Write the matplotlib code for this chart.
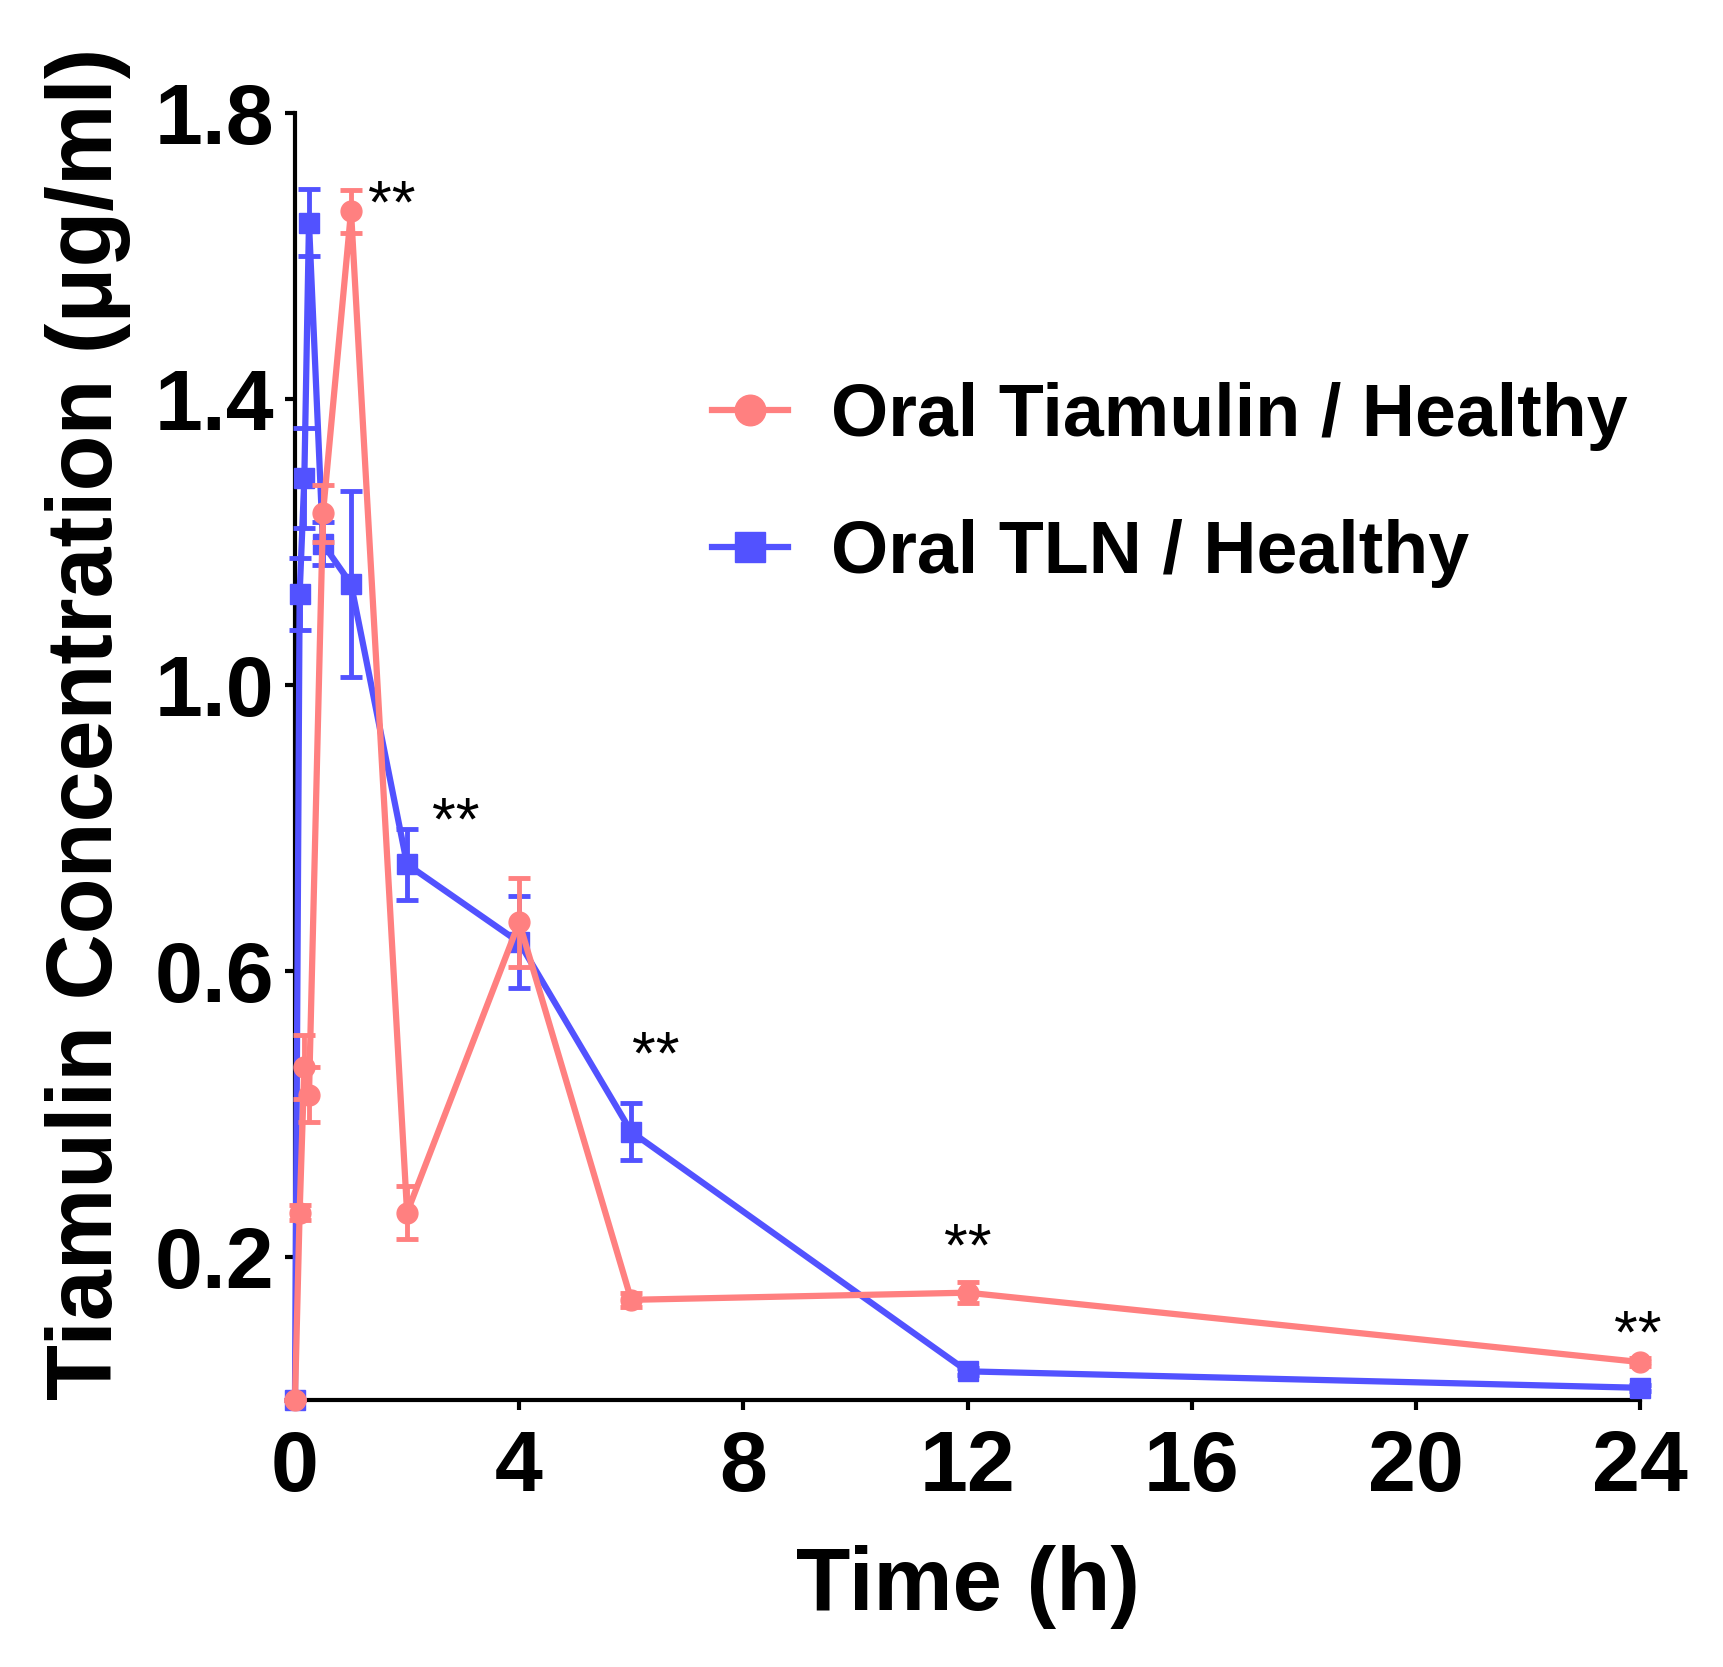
import matplotlib
matplotlib.use("Agg")
import matplotlib.pyplot as plt

plt.rcParams['font.family'] = ['Liberation Sans', 'DejaVu Sans']

# Data
time_h = [0, 0.083, 0.167, 0.25, 0.5, 1, 2, 4, 6, 12, 24]
tiamulin_mean = [0, 0.262, 0.466, 0.427, 1.24, 1.662, 0.262, 0.668, 0.14, 0.15, 0.053]
tiamulin_sd = [0, 0.01, 0.045, 0.038, 0.04, 0.03, 0.037, 0.062, 0.01, 0.015, 0.006]
tln_mean = [0, 1.127, 1.289, 1.646, 1.197, 1.141, 0.749, 0.640, 0.375, 0.04, 0.017]
tln_sd = [0, 0.05, 0.07, 0.047, 0.03, 0.13, 0.05, 0.064, 0.04, 0.005, 0.004]

sig_x = [1.73, 2.86, 6.43, 12.0, 23.96]
sig_y = [1.668, 0.806, 0.478, 0.21, 0.088]
sig_text = ["**", "**", "**", "**", "**"]

x_ticks = [0, 4, 8, 12, 16, 20, 24]
y_ticks = [0.2, 0.6, 1.0, 1.4, 1.8]

red = '#FF8080'
blue = '#5252FF'

fig = plt.figure(figsize=(17.24, 16.67), dpi=100)
ax = fig.add_axes([0.1711, 0.1602, 0.7802, 0.7722])

lw = 4.5
eb_b = ax.errorbar(time_h, tln_mean, yerr=tln_sd, color=blue, lw=lw, marker='s',
                   markersize=14, capsize=8, capthick=3.5, elinewidth=3.5,
                   clip_on=False, zorder=3, label='Oral TLN / Healthy')
eb_r = ax.errorbar(time_h, tiamulin_mean, yerr=tiamulin_sd, color=red, lw=lw, marker='o',
                   markersize=15, capsize=8, capthick=3.5, elinewidth=3.5,
                   clip_on=False, zorder=4, label='Oral Tiamulin / Healthy')
for eb in (eb_b, eb_r):
    eb[0].set_clip_on(False)
    for a in eb[1]:
        a.set_clip_on(False)
    for c in eb[2]:
        c.set_clip_on(False)

for sx, sy, st in zip(sig_x, sig_y, sig_text):
    ax.text(sx, sy, st, fontsize=44, ha='center', va='center', color='black')

ax.set_xlim(0, 24)
ax.set_ylim(0, 1.8)
ax.set_xticks(x_ticks)
ax.set_yticks(y_ticks)
ax.set_xticklabels([str(t) for t in x_ticks])
ax.set_yticklabels([f"{t:.1f}" for t in y_ticks])

for s in ['top', 'right']:
    ax.spines[s].set_visible(False)
for s in ['left', 'bottom']:
    ax.spines[s].set_linewidth(3)
ax.tick_params(axis='both', direction='out', length=7, width=3, labelsize=62)
ax.tick_params(axis='y', pad=8)
ax.tick_params(axis='x', pad=14)
for lab in ax.get_xticklabels() + ax.get_yticklabels():
    lab.set_fontweight('bold')

ax.set_xlabel('Time (h)', fontsize=64, fontweight='bold')
ax.xaxis.set_label_coords(0.5, -0.113)
fig.text(88 / 1724, 1 - 724 / 1667, 'Tiamulin Concentration (μg/ml)', rotation=90,
         ha='center', va='center', fontsize=66, fontweight='bold')

h_r = plt.Line2D([], [], color=red, lw=lw, marker='o', markersize=22)
h_b = plt.Line2D([], [], color=blue, lw=lw, marker='s', markersize=21)
leg = ax.legend([h_r, h_b], ['Oral Tiamulin / Healthy', 'Oral TLN / Healthy'],
                loc='upper left', bbox_to_anchor=(712 / 1724, 1 - 382 / 1667),
                bbox_transform=fig.transFigure, frameon=False,
                prop={'size': 53, 'weight': 'bold'}, handlelength=1.03,
                handletextpad=0.58, labelspacing=0.92, borderpad=0, borderaxespad=0)

fig.savefig('out.png', dpi=100)
